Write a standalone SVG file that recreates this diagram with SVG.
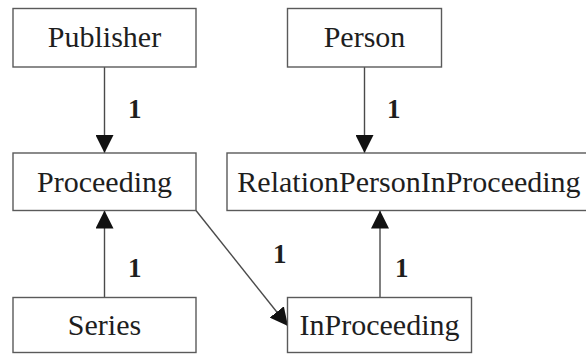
<svg xmlns="http://www.w3.org/2000/svg" width="586" height="354" viewBox="0 0 586 354">
  <style>
    .box { fill: #ffffff; stroke: #5a5a5a; stroke-width: 1.4; }
    .name { font-size: 30px; fill: #1e1e1e; text-anchor: middle; }
    .mult { font-size: 27px; font-weight: bold; fill: #1e1e1e; }
    .edge { fill: none; stroke: #4a4a4a; stroke-width: 1.4; }
  </style>
  <defs>
    <marker id="head" viewBox="0 0 18 18" refX="18" refY="9" markerWidth="18" markerHeight="18" markerUnits="userSpaceOnUse" orient="auto">
      <path d="M0,0 L18,9 L0,18 Z" fill="#111111"/>
    </marker>
  </defs>
  <rect width="586" height="354" fill="#ffffff"/>

  <g id="connectors">
    <line class="edge" x1="104.5" y1="67" x2="104.5" y2="153" marker-end="url(#head)"/>
    <line class="edge" x1="364.5" y1="67" x2="364.5" y2="153" marker-end="url(#head)"/>
    <line class="edge" x1="104.5" y1="297.5" x2="104.5" y2="210.5" marker-end="url(#head)"/>
    <line class="edge" x1="380" y1="297.5" x2="380" y2="210.5" marker-end="url(#head)"/>
    <line class="edge" x1="196" y1="210.5" x2="288" y2="326" marker-end="url(#head)"/>
    <text class="mult" font-family="Liberation Serif" x="128" y="118">1</text>
    <text class="mult" font-family="Liberation Serif" x="387" y="118">1</text>
    <text class="mult" font-family="Liberation Serif" x="128" y="277">1</text>
    <text class="mult" font-family="Liberation Serif" x="395" y="277">1</text>
    <text class="mult" font-family="Liberation Serif" x="273" y="263">1</text>
  </g>

  <g id="publisher">
    <rect class="box" x="13" y="8.5" width="183" height="58.5"/>
    <text class="name" font-family="Liberation Serif" x="104.5" y="47">Publisher</text>
  </g>
  <g id="person">
    <rect class="box" x="287.5" y="8.5" width="154" height="58.5"/>
    <text class="name" font-family="Liberation Serif" x="364.5" y="47">Person</text>
  </g>
  <g id="proceeding">
    <rect class="box" x="13" y="153" width="183" height="57.5"/>
    <text class="name" font-family="Liberation Serif" x="104.5" y="192">Proceeding</text>
  </g>
  <g id="relation-person-in-proceeding">
    <rect class="box" x="227" y="153" width="365" height="57.5"/>
    <text class="name" font-family="Liberation Serif" x="409" y="192">RelationPersonInProceeding</text>
  </g>
  <g id="series">
    <rect class="box" x="13" y="297.5" width="183" height="55"/>
    <text class="name" font-family="Liberation Serif" x="104.5" y="335">Series</text>
  </g>
  <g id="in-proceeding">
    <rect class="box" x="287.5" y="297.5" width="184" height="55"/>
    <text class="name" font-family="Liberation Serif" x="379.5" y="335">InProceeding</text>
  </g>
</svg>
